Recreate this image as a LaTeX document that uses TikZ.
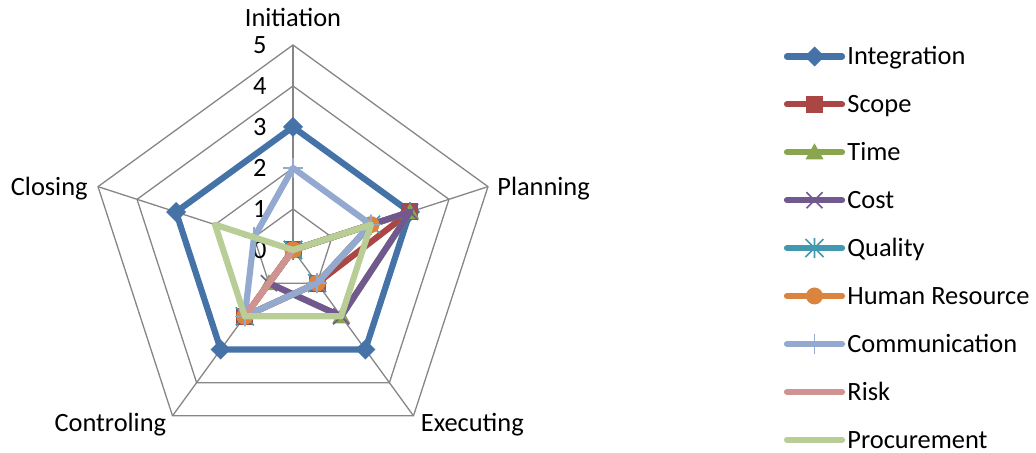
\documentclass[tikz,border=0pt]{standalone}
\usepackage{fontspec}
\setmainfont{Carlito}
\usetikzlibrary{calc,positioning}
\definecolor{grid}{HTML}{868686}
\definecolor{integ}{HTML}{4572A7}
\definecolor{scope}{HTML}{AA4643}
\definecolor{time}{HTML}{89A54E}
\definecolor{cost}{HTML}{71588F}
\definecolor{qual}{HTML}{4198AF}
\definecolor{hr}{HTML}{DB843D}
\definecolor{comm}{HTML}{93A9CF}
\definecolor{risk}{HTML}{D19392}
\definecolor{proc}{HTML}{B9CD96}
\tikzset{
  gridln/.style = {draw=grid,line width=0.65pt},
  valaxis/.style = {draw=grid,line width=1.1pt},
  series/.style = {line width=3.1pt,line join=round,line cap=round},
  lab/.style = {font=\fontsize{13.2}{16}\selectfont,inner sep=0pt,text height=8.5pt,text depth=0pt}
}
% markers: #1 colour, #2 coordinate
\newcommand{\mkdia}[2]{\fill[fill=#1,shift={(#2)}] (0,10) -- (10,0) -- (0,-10) -- (-10,0) -- cycle;}
\newcommand{\mksq}[2]{\fill[fill=#1,shift={(#2)}] (-8.5,-8.5) rectangle (8.5,8.5);}
\newcommand{\mktri}[2]{\fill[fill=#1,shift={(#2)}] (0,9) -- (9,-7) -- (-9,-7) -- cycle;}
\newcommand{\mkx}[2]{\draw[draw=#1,line width=0.8pt,shift={(#2)}] (-8,-8) -- (8,8) (-8,8) -- (8,-8);}
\newcommand{\mkstar}[2]{\draw[draw=#1,line width=0.8pt,shift={(#2)}] (-9,-9) -- (9,9) (-9,9) -- (9,-9) (0,-10) -- (0,10);}
\newcommand{\mkcirc}[2]{\fill[fill=#1] (#2) circle (8.5);}
\newcommand{\mkplus}[2]{\draw[draw=#1,line width=0.8pt,shift={(#2)}] (-10,0) -- (10,0) (0,-10) -- (0,10);}
\newcommand{\mknone}[2]{}
\begin{document}
\begin{tikzpicture}[x=0.5pt,y=0.5pt]
\useasboundingbox (0,0) rectangle (1036,453);
\coordinate (c) at (293,203);

% web
\foreach \r in {1,...,5}
  \draw[gridln,shift={(c)}] (90:{41*\r}) \foreach \a in {18,-54,-126,162} {-- (\a:{41*\r})} -- cycle;

\foreach \a/\n in {90/ini,18/pla,-54/exe,-126/con,162/clo}
  \coordinate (\n) at ($(c)+(\a:205)$);
\foreach \n in {pla,exe,con,clo}
  \draw[gridln] (c) -- (\n);
\draw[valaxis] (c) -- (ini);

\node[lab,above=9pt of ini] (tini) {Initiation};
\node[lab,right=4.5pt of pla] (tpla) {Planning};
\node[lab,below right=-0.75pt and 3.5pt of exe] (texe) {Executing};
\node[lab,below left=-0.75pt and 3pt of con] (tcon) {Controling};
\node[lab,left=5pt of clo] (tclo) {Closing};

\foreach \v in {0,...,5}{
  \coordinate (tk\v) at ($(c)+(0,41*\v)$);
  \node[lab,left=13pt of tk\v] (v\v) {\v};
}

% series
\foreach \ser/\vals/\mk in {integ/{3,3,3,3,3}/\mkdia, scope/{0,3,1,2,0}/\mksq,
    time/{0,3,2,1,0}/\mktri, cost/{0,3,2,1,0}/\mkx, qual/{0,2,1,2,0}/\mkstar,
    hr/{0,2,1,2,0}/\mkcirc, comm/{2,2,1,2,1}/\mkplus, risk/{0,0,0,2,0}/\mknone,
    proc/{0,2,2,2,2}/\mknone}{
  \foreach \v [count=\i] in \vals
    {\coordinate (\ser\i) at ($(c)+({162-72*\i}:{41*\v})$);}
  \draw[series,draw=\ser] (\ser1) -- (\ser2) -- (\ser3) -- (\ser4) -- (\ser5) -- cycle;
  \foreach \i in {1,...,5}
    {\mk{\ser}{\ser\i}}
}

% legend
\foreach \ser/\mk/\txt [count=\k] in {integ/\mkdia/Integration, scope/\mksq/Scope,
    time/\mktri/Time, cost/\mkx/Cost, qual/\mkstar/Quality, hr/\mkcirc/Human Resource,
    comm/\mkplus/Communication, risk/\mknone/Risk, proc/\mknone/Procurement}{
  \coordinate (l\ser) at (787,{396.5-47.9*(\k-1)});
  \coordinate[right=27.5pt of l\ser] (r\ser);
  \coordinate (m\ser) at ($(l\ser)!0.5!(r\ser)$);
  \draw[series,draw=\ser] (l\ser) -- (r\ser);
  \mk{\ser}{m\ser}
  \node[lab,right=2.5pt of r\ser] (t\ser) {\txt};
}
\end{tikzpicture}
\end{document}
